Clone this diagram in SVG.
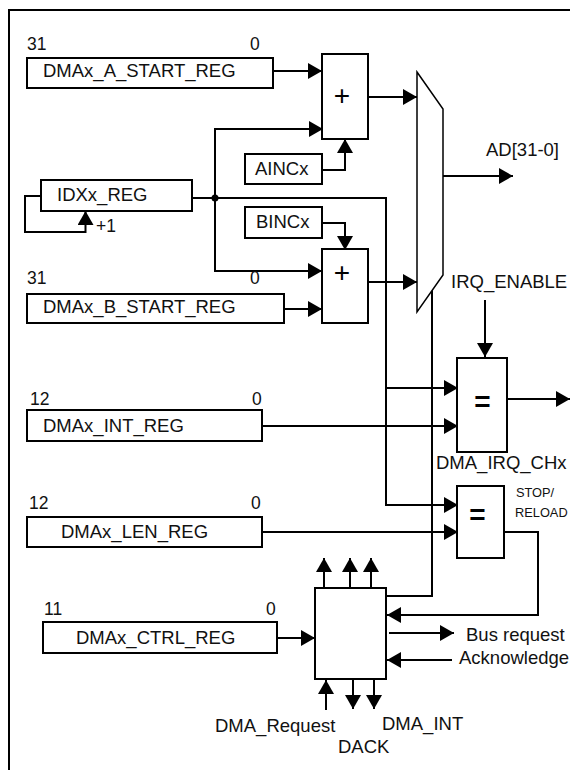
<svg xmlns="http://www.w3.org/2000/svg" width="570" height="770" viewBox="0 0 570 770">
<style>
text{font-family:"Liberation Sans",Arial,sans-serif;font-size:18.5px;fill:#111}
.b{fill:#fff;stroke:#000;stroke-width:2}
.c{fill:none;stroke:#000;stroke-width:2}
.n{font-size:17.500px}
.s{font-size:12.800px}
.o{font-size:28px;text-anchor:middle;fill:#000}
.e{font-size:28px;font-weight:bold;text-anchor:middle;fill:#000}
</style>
<defs><marker id="a" markerUnits="userSpaceOnUse" markerWidth="15" markerHeight="16" refX="14" refY="8" orient="auto"><path d="M0 0L14 8L0 16Z"/></marker></defs>
<rect width="570" height="770" fill="#fff"/>
<path class="c" d="M9 770V10H570"/>
<g id="connectors">
<path class="c" marker-end="url(#a)" d="M273 71H322"/>
<path class="c" marker-end="url(#a)" d="M193 198H215V129H323"/>
<path class="c" d="M215 198H386V388"/>
<path class="c" marker-end="url(#a)" d="M215 198V271H322"/>
<path class="c" marker-end="url(#a)" d="M322 170H345V139"/>
<path class="c" marker-end="url(#a)" d="M322 223H345V250"/>
<path class="c" marker-end="url(#a)" d="M284 309H322"/>
<path class="c" marker-end="url(#a)" d="M368 97H417"/>
<path class="c" marker-end="url(#a)" d="M368 282H417"/>
<path class="c" marker-end="url(#a)" d="M442 176H513"/>
<path class="c" marker-end="url(#a)" d="M485 300V357"/>
<path class="c" marker-end="url(#a)" d="M386 388H458"/>
<path class="c" marker-end="url(#a)" d="M262 426H458"/>
<path class="c" marker-end="url(#a)" d="M386 388V505H458"/>
<path class="c" marker-end="url(#a)" d="M262 532H458"/>
<path class="c" marker-end="url(#a)" d="M507 399H570"/>
<path class="c" d="M432 290V596H386"/>
<path class="c" marker-end="url(#a)" d="M504 532H538V615H387"/>
<path class="c" marker-end="url(#a)" d="M277 638H315"/>
<path class="c" marker-end="url(#a)" d="M389 633H454"/>
<path class="c" marker-end="url(#a)" d="M452 660H387"/>
<path class="c" marker-end="url(#a)" d="M324 587V558"/>
<path class="c" marker-end="url(#a)" d="M350 587V558"/>
<path class="c" marker-end="url(#a)" d="M371 587V558"/>
<path class="c" marker-end="url(#a)" d="M326 710V680"/>
<path class="c" marker-end="url(#a)" d="M353 679V709"/>
<path class="c" marker-end="url(#a)" d="M374 679V709"/>
<path class="c" marker-end="url(#a)" d="M41 196H25V232H85.500V211"/>
<circle cx="215" cy="198" r="3.500"/>
</g>
<g id="a-reg"><rect class="b" x="27" y="58" width="246" height="30"/><text x="43" y="77">DMAx_A_START_REG</text><text class="n" x="27" y="50">31</text><text class="n" x="250" y="50">0</text></g>
<g id="idx-reg"><rect class="b" x="41" y="180" width="151" height="31"/><text x="57" y="201">IDXx_REG</text><text class="n" x="96" y="232">+1</text></g>
<g id="b-reg"><rect class="b" x="27" y="294" width="257" height="29"/><text x="43" y="313">DMAx_B_START_REG</text><text class="n" x="27" y="284">31</text><text class="n" x="250" y="284">0</text></g>
<g id="ainc"><rect class="b" x="245" y="154" width="77" height="30"/><text x="255" y="175">AINCx</text></g>
<g id="binc"><rect class="b" x="245" y="207" width="77" height="31"/><text x="256" y="228">BINCx</text></g>
<g id="add-a"><rect class="b" x="322" y="54" width="46" height="85"/><text class="o" x="342" y="105">+</text></g>
<g id="add-b"><rect class="b" x="322" y="249" width="46" height="74"/><text class="o" x="342" y="282">+</text></g>
<g id="mux"><path fill="#fff" stroke="#000" stroke-width="1.500" d="M417 72L443 109V275L417 312Z"/></g>
<g id="int-reg"><rect class="b" x="27" y="410" width="235" height="31"/><text x="43" y="432">DMAx_INT_REG</text><text class="n" x="30" y="405">12</text><text class="n" x="252" y="405">0</text></g>
<g id="len-reg"><rect class="b" x="27" y="517" width="235" height="30"/><text x="61" y="538">DMAx_LEN_REG</text><text class="n" x="29" y="509">12</text><text class="n" x="251" y="509">0</text></g>
<g id="ctrl-reg"><rect class="b" x="43" y="622" width="234" height="31"/><text x="76" y="644">DMAx_CTRL_REG</text><text class="n" x="44" y="615">11</text><text class="n" x="266" y="615">0</text></g>
<g id="eq-a"><rect class="b" x="457" y="358" width="50" height="94"/><text class="e" x="482.500" y="411">=</text></g>
<g id="eq-b"><rect class="b" x="457" y="486" width="47" height="72"/><text class="e" x="477.500" y="524">=</text></g>
<g id="ctrl"><rect class="b" x="315" y="588" width="71" height="91"/></g>
<text x="486" y="156">AD[31-0]</text>
<text x="451" y="288">IRQ_ENABLE</text>
<text x="436" y="469">DMA_IRQ_CHx</text>
<text class="s" x="516" y="497">STOP/</text>
<text class="s" x="515" y="517">RELOAD</text>
<text x="466" y="641">Bus request</text>
<text x="459" y="664">Acknowledge</text>
<text x="215" y="732">DMA_Request</text>
<text x="382" y="730">DMA_INT</text>
<text x="338" y="753">DACK</text>
</svg>
